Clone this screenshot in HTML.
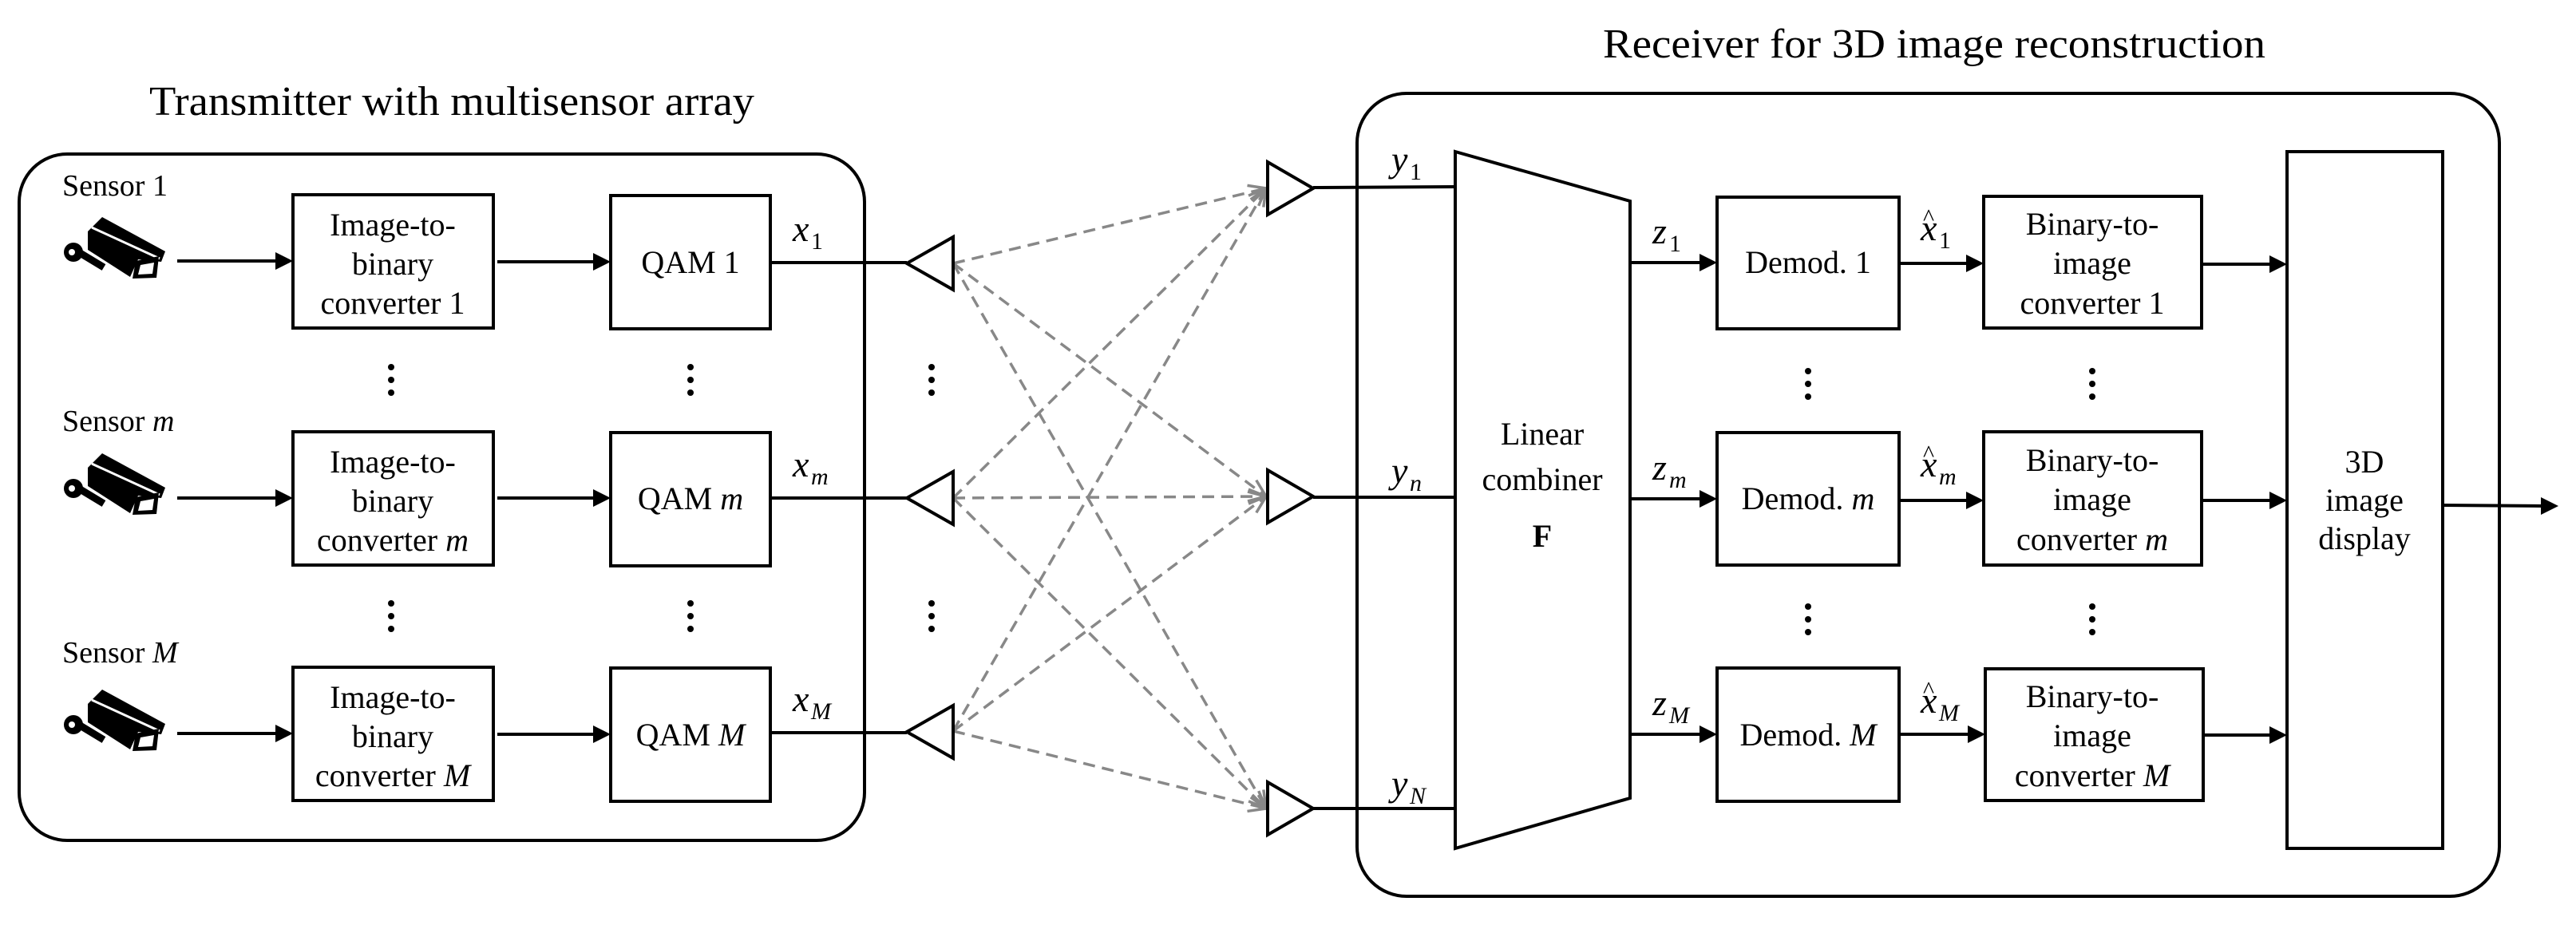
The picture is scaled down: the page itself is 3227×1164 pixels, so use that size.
<!DOCTYPE html>
<html><head><meta charset="utf-8"><style>
html,body{margin:0;padding:0;background:#fff;}
svg{display:block;}
text{font-family:"Liberation Serif",serif;fill:#000;}
.bx{fill:#fff;stroke:#000;stroke-width:4;}
.ln{stroke:#000;stroke-width:4;fill:none;}
.t{font-size:40px;text-anchor:middle;}
.mi{font-style:italic;font-size:46px;}
.sb{font-size:30px;}
.ds{stroke:#888;stroke-width:3.5;stroke-dasharray:15 9;fill:none;}
</style></head><body>
<svg width="3227" height="1164" viewBox="0 0 3227 1164" xmlns="http://www.w3.org/2000/svg">
<defs>
<marker id="ah" markerWidth="8" markerHeight="8" refX="7" refY="4" orient="auto" markerUnits="userSpaceOnUse" viewBox="0 0 8 8">
</marker>
<marker id="gh" markerWidth="30" markerHeight="30" refX="28" refY="15" orient="auto" markerUnits="userSpaceOnUse">
<path d="M6,6 L28,15 L6,24" fill="none" stroke="#888" stroke-width="3.5"/>
</marker>
<g id="cam">
<polygon points="110,290 128,272 207,315 202,328 173,325 163,347 110,313" fill="#000"/>
<line x1="115" y1="285" x2="200" y2="324" stroke="#fff" stroke-width="3"/>
<polygon points="170,327 199,321 196,348 166,349" fill="#000"/>
<polygon points="176,332 193,329 191,343 173,344" fill="#fff"/>
<line x1="92" y1="312" x2="130" y2="335" stroke="#000" stroke-width="9"/>
<circle cx="92" cy="316" r="12" fill="#000"/>
<circle cx="90" cy="316" r="4" fill="#fff"/>
</g>
<g id="arr"><polygon points="0,0 -22,-11 -22,11" fill="#000"/></g>
</defs>

<!-- titles -->
<text x="187" y="144" font-size="52" textLength="758" lengthAdjust="spacingAndGlyphs">Transmitter with multisensor array</text>
<text x="2008" y="72" font-size="52" textLength="830" lengthAdjust="spacingAndGlyphs">Receiver for 3D image reconstruction</text>

<!-- containers -->
<rect x="24" y="193" width="1059" height="860" rx="60" ry="60" fill="none" stroke="#000" stroke-width="4"/>
<rect x="1700" y="117" width="1431" height="1006" rx="62" ry="62" fill="none" stroke="#000" stroke-width="4"/>

<!-- dashed channels -->
<g class="ds">
<line x1="1194" y1="330" x2="1586" y2="236" marker-end="url(#gh)"/>
<line x1="1194" y1="330" x2="1586" y2="622" marker-end="url(#gh)"/>
<line x1="1194" y1="330" x2="1586" y2="1013" marker-end="url(#gh)"/>
<line x1="1194" y1="624" x2="1586" y2="236" marker-end="url(#gh)"/>
<line x1="1194" y1="624" x2="1586" y2="622" marker-end="url(#gh)"/>
<line x1="1194" y1="624" x2="1586" y2="1013" marker-end="url(#gh)"/>
<line x1="1194" y1="916" x2="1586" y2="236" marker-end="url(#gh)"/>
<line x1="1194" y1="916" x2="1586" y2="622" marker-end="url(#gh)"/>
<line x1="1194" y1="916" x2="1586" y2="1013" marker-end="url(#gh)"/>
</g>

<!-- TX rows -->
<g>
<text x="78" y="245" font-size="38">Sensor 1</text>
<text x="78" y="540" font-size="38">Sensor <tspan font-style="italic">m</tspan></text>
<text x="78" y="830" font-size="38">Sensor <tspan font-style="italic">M</tspan></text>
</g>
<use href="#cam"/>
<use href="#cam" y="296"/>
<use href="#cam" y="592"/>

<!-- row 1 -->
<rect class="bx" x="367" y="244" width="251" height="167"/>
<rect class="bx" x="765" y="245" width="200" height="167"/>
<text class="t" x="492" y="295">Image-to-</text><text class="t" x="492" y="344">binary</text><text class="t" x="492" y="393">converter 1</text>
<text class="t" x="865" y="342">QAM 1</text>
<line class="ln" x1="222" y1="327" x2="350" y2="327"/><use href="#arr" x="367" y="327"/>
<line class="ln" x1="623" y1="328" x2="748" y2="328"/><use href="#arr" x="765" y="328"/>
<line class="ln" x1="965" y1="329" x2="1136" y2="329"/>
<polygon points="1136,330 1194,297 1194,363" fill="#fff" stroke="#000" stroke-width="4"/>
<text x="993" y="302" class="mi">x</text><text x="1016" y="312" class="sb">1</text>

<!-- row m -->
<rect class="bx" x="367" y="541" width="251" height="167"/>
<rect class="bx" x="765" y="542" width="200" height="167"/>
<text class="t" x="492" y="592">Image-to-</text><text class="t" x="492" y="641">binary</text><text class="t" x="492" y="690">converter <tspan font-style="italic">m</tspan></text>
<text class="t" x="865" y="638">QAM <tspan font-style="italic">m</tspan></text>
<line class="ln" x1="222" y1="624" x2="350" y2="624"/><use href="#arr" x="367" y="624"/>
<line class="ln" x1="623" y1="624" x2="748" y2="624"/><use href="#arr" x="765" y="624"/>
<line class="ln" x1="965" y1="624" x2="1136" y2="624"/>
<polygon points="1136,624 1194,591 1194,657" fill="#fff" stroke="#000" stroke-width="4"/>
<text x="993" y="597" class="mi">x</text><text x="1016" y="607" class="sb" font-style="italic">m</text>

<!-- row M -->
<rect class="bx" x="367" y="836" width="251" height="167"/>
<rect class="bx" x="765" y="837" width="200" height="167"/>
<text class="t" x="492" y="887">Image-to-</text><text class="t" x="492" y="936">binary</text><text class="t" x="492" y="985">converter <tspan font-style="italic">M</tspan></text>
<text class="t" x="865" y="934">QAM <tspan font-style="italic">M</tspan></text>
<line class="ln" x1="222" y1="919" x2="350" y2="919"/><use href="#arr" x="367" y="919"/>
<line class="ln" x1="623" y1="920" x2="748" y2="920"/><use href="#arr" x="765" y="920"/>
<line class="ln" x1="965" y1="918" x2="1136" y2="918"/>
<polygon points="1136,917 1194,884 1194,950" fill="#fff" stroke="#000" stroke-width="4"/>
<text x="993" y="891" class="mi">x</text><text x="1016" y="901" class="sb" font-style="italic">M</text>

<!-- dots -->
<g fill="#000">
<circle cx="490" cy="460" r="4"/><circle cx="490" cy="476" r="4"/><circle cx="490" cy="492" r="4"/>
<circle cx="865" cy="460" r="4"/><circle cx="865" cy="476" r="4"/><circle cx="865" cy="492" r="4"/>
<circle cx="1167" cy="460" r="4"/><circle cx="1167" cy="476" r="4"/><circle cx="1167" cy="492" r="4"/>
<circle cx="490" cy="756" r="4"/><circle cx="490" cy="772" r="4"/><circle cx="490" cy="788" r="4"/>
<circle cx="865" cy="756" r="4"/><circle cx="865" cy="772" r="4"/><circle cx="865" cy="788" r="4"/>
<circle cx="1167" cy="756" r="4"/><circle cx="1167" cy="772" r="4"/><circle cx="1167" cy="788" r="4"/>
<circle cx="2265" cy="465" r="4"/><circle cx="2265" cy="481" r="4"/><circle cx="2265" cy="497" r="4"/>
<circle cx="2621" cy="465" r="4"/><circle cx="2621" cy="481" r="4"/><circle cx="2621" cy="497" r="4"/>
<circle cx="2265" cy="760" r="4"/><circle cx="2265" cy="776" r="4"/><circle cx="2265" cy="792" r="4"/>
<circle cx="2621" cy="760" r="4"/><circle cx="2621" cy="776" r="4"/><circle cx="2621" cy="792" r="4"/>
</g>

<!-- RX antennas -->
<polygon points="1588,203 1645,236 1588,269" fill="#fff" stroke="#000" stroke-width="4"/>
<polygon points="1588,589 1645,622 1588,655" fill="#fff" stroke="#000" stroke-width="4"/>
<polygon points="1588,980 1645,1013 1588,1046" fill="#fff" stroke="#000" stroke-width="4"/>
<line class="ln" x1="1645" y1="235" x2="1823" y2="234"/>
<line class="ln" x1="1645" y1="623" x2="1823" y2="623"/>
<line class="ln" x1="1645" y1="1013" x2="1823" y2="1013"/>
<text x="1743" y="215" class="mi">y</text><text x="1766" y="225" class="sb">1</text>
<text x="1743" y="605" class="mi">y</text><text x="1766" y="615" class="sb" font-style="italic">n</text>
<text x="1743" y="997" class="mi">y</text><text x="1766" y="1007" class="sb" font-style="italic">N</text>

<!-- combiner -->
<polygon points="1823,190 2042,252 2042,1000 1823,1063" fill="#fff" stroke="#000" stroke-width="4"/>
<text class="t" x="1932" y="557" font-size="44">Linear</text>
<text class="t" x="1932" y="614" font-size="44">combiner</text>
<text class="t" x="1932" y="685" font-size="44" font-weight="bold">F</text>

<!-- demod / bin rows -->
<g>
<rect class="bx" x="2151" y="247" width="228" height="165"/>
<rect class="bx" x="2151" y="542" width="228" height="166"/>
<rect class="bx" x="2151" y="837" width="228" height="167"/>
<text class="t" x="2265" y="342">Demod. 1</text>
<text class="t" x="2265" y="638">Demod. <tspan font-style="italic">m</tspan></text>
<text class="t" x="2265" y="934">Demod. <tspan font-style="italic">M</tspan></text>

<rect class="bx" x="2485" y="246" width="273" height="165"/>
<rect class="bx" x="2485" y="541" width="273" height="167"/>
<rect class="bx" x="2487" y="838" width="273" height="165"/>
<text class="t" x="2621" y="294">Binary-to-</text><text class="t" x="2621" y="343">image</text><text class="t" x="2621" y="393">converter 1</text>
<text class="t" x="2621" y="590">Binary-to-</text><text class="t" x="2621" y="639">image</text><text class="t" x="2621" y="689">converter <tspan font-style="italic">m</tspan></text>
<text class="t" x="2621" y="886">Binary-to-</text><text class="t" x="2621" y="935">image</text><text class="t" x="2621" y="985">converter <tspan font-style="italic">M</tspan></text>

<rect class="bx" x="2865" y="190" width="195" height="873"/>
<text class="t" x="2962" y="592">3D</text><text class="t" x="2962" y="640">image</text><text class="t" x="2962" y="688">display</text>
</g>

<!-- arrows rx -->
<line class="ln" x1="2042" y1="329" x2="2134" y2="329"/><use href="#arr" x="2151" y="329"/>
<line class="ln" x1="2042" y1="625" x2="2134" y2="625"/><use href="#arr" x="2151" y="625"/>
<line class="ln" x1="2042" y1="920" x2="2134" y2="920"/><use href="#arr" x="2151" y="920"/>
<line class="ln" x1="2379" y1="330" x2="2468" y2="330"/><use href="#arr" x="2485" y="330"/>
<line class="ln" x1="2379" y1="627" x2="2468" y2="627"/><use href="#arr" x="2485" y="627"/>
<line class="ln" x1="2379" y1="920" x2="2470" y2="920"/><use href="#arr" x="2487" y="920"/>
<line class="ln" x1="2758" y1="331" x2="2848" y2="331"/><use href="#arr" x="2865" y="331"/>
<line class="ln" x1="2758" y1="627" x2="2848" y2="627"/><use href="#arr" x="2865" y="627"/>
<line class="ln" x1="2760" y1="921" x2="2848" y2="921"/><use href="#arr" x="2865" y="921"/>
<line class="ln" x1="3060" y1="633" x2="3186" y2="634"/><use href="#arr" x="3205" y="634"/>

<text x="2070" y="305" class="mi">z</text><text x="2091" y="315" class="sb">1</text>
<text x="2070" y="601" class="mi">z</text><text x="2091" y="611" class="sb" font-style="italic">m</text>
<text x="2070" y="896" class="mi">z</text><text x="2091" y="906" class="sb" font-style="italic">M</text>

<text x="2406" y="301" class="mi">x</text><text x="2409" y="282" font-size="30">^</text><text x="2429" y="311" class="sb">1</text>
<text x="2406" y="597" class="mi">x</text><text x="2409" y="578" font-size="30">^</text><text x="2429" y="607" class="sb" font-style="italic">m</text>
<text x="2406" y="893" class="mi">x</text><text x="2409" y="874" font-size="30">^</text><text x="2429" y="903" class="sb" font-style="italic">M</text>
</svg>
</body></html>
